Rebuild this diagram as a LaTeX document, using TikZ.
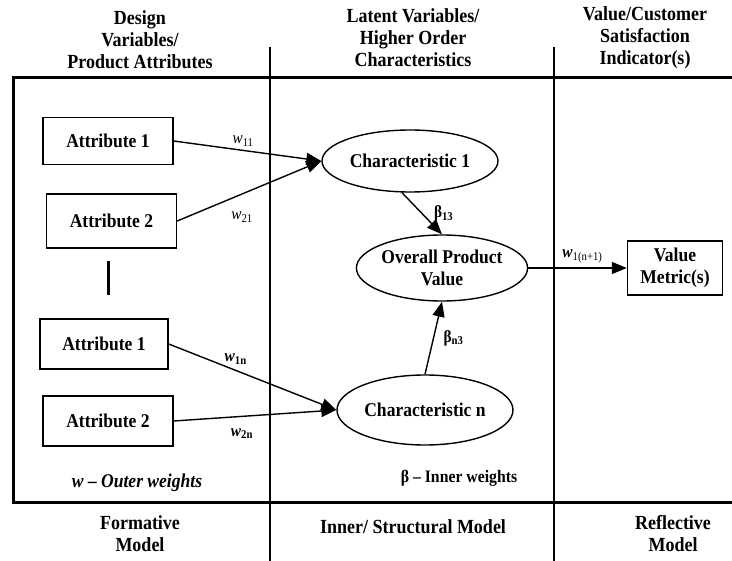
\documentclass[tikz,border=0pt]{standalone}
\usepackage{fontspec}
\setmainfont{Liberation Serif}[FakeStretch=0.9]
\usetikzlibrary{shapes.geometric,arrows.meta,positioning}

\begin{document}
\begin{tikzpicture}[x=1pt,y=-1pt,
  attrbox/.style={draw, line width=1.4pt, minimum width=130pt, minimum height=50pt, inner sep=0pt, font=\fontsize{19.5}{22}\selectfont\bfseries},
  latent/.style={draw, ellipse, line width=1.4pt, inner sep=0pt, minimum width=176pt, minimum height=62pt, align=center, font=\fontsize{19.5}{22}\selectfont\bfseries},
  conn/.style={line width=1.4pt, -{Triangle[length=15pt,width=12pt]}},
  wlbl/.style={font=\fontsize{17}{19}\selectfont},
  headtxt/.style={align=center, font=\fontsize{20}{22}\selectfont\bfseries}]
\useasboundingbox (0,0) rectangle (732,561);

% Frame and column dividers
\draw[line width=3pt] (732,78) -- (13,78) -- (13,503) -- (732,503);
\draw[line width=1.5pt] (270,47) -- (270,561);
\draw[line width=1.5pt] (554,47) -- (554,561);

% Column headers
\node[headtxt] (hdesign) at (140,40) {Design\\Variables/\\Product Attributes};
\node[headtxt] (hlatent) at (413,38) {Latent Variables/\\Higher Order\\Characteristics};
\node[headtxt] (hvalue) at (645,38) {Value/Customer\\Satisfaction\\Indicator(s)};

% Column footers
\node[headtxt] (fform) at (140,534) {Formative\\Model};
\node[headtxt] (finner) at (413,527) {Inner/ Structural Model};
\node[headtxt] (frefl) at (673,534) {Reflective\\Model};

% Attributes
\node[attrbox, minimum height=47pt] (attra) at (108,141) {Attribute 1};
\node[attrbox, minimum height=54pt] (attrb) at (111.5,221) {Attribute 2};
\draw[line width=3pt] (108,261) -- (108,295);
\node[attrbox, minimum width=128pt] (attrc) at (104,344) {Attribute 1};
\node[attrbox] (attrd) at (108,421) {Attribute 2};

% Latent variables
\node[latent] (chara) at (410,161) {Characteristic 1};
\node[latent, minimum width=170pt, minimum height=66pt] (opv) at (442,268) {Overall Product\\Value};
\node[latent, minimum height=70pt] (charn) at (425,410) {Characteristic n};

% Indicator
\node[attrbox, minimum width=95pt, minimum height=54pt, align=center] (metric) at (675,268) {Value\\Metric(s)};

% Outer weights
\draw[conn] (attra.east) -- node[wlbl, pos=0.47, above=0pt] {\textit{w}\textsubscript{11}} (chara.west);
\draw[conn] (attrb.east) -- node[wlbl, pos=0.45, below=14pt] {\textit{w}\textsubscript{21}} (chara.west);
\draw[conn] (attrc.east) -- node[wlbl, pos=0.4, above=2pt] {\textbf{\textit{w}\textsubscript{1n}}} (charn.west);
\draw[conn] (attrd.east) -- node[wlbl, pos=0.42, below=8pt] {\textbf{\textit{w}\textsubscript{2n}}} (charn.west);

% Inner weights
\draw[conn] ([xshift=-8pt]chara.south) -- node[wlbl, right=8pt] {\textbf{β\textsubscript{13}}} (opv.north);
\draw[conn] (charn.north) -- node[wlbl, right=6pt] {\textbf{β\textsubscript{n3}}} (opv.south);

% Reflective weight
\draw[conn] (opv.east) -- node[wlbl, pos=0.55, above=1pt] {\textbf{\textit{w}}\textsubscript{1(n+1)}} (metric.west);

% Legends
\node[font=\fontsize{19.5}{22}\selectfont\bfseries\itshape] (wlegend) at (137,483) {w – Outer weights};
\node[font=\fontsize{17.5}{20}\selectfont\bfseries] (blegend) at (459,478) {β – Inner weights};
\end{tikzpicture}
\end{document}
